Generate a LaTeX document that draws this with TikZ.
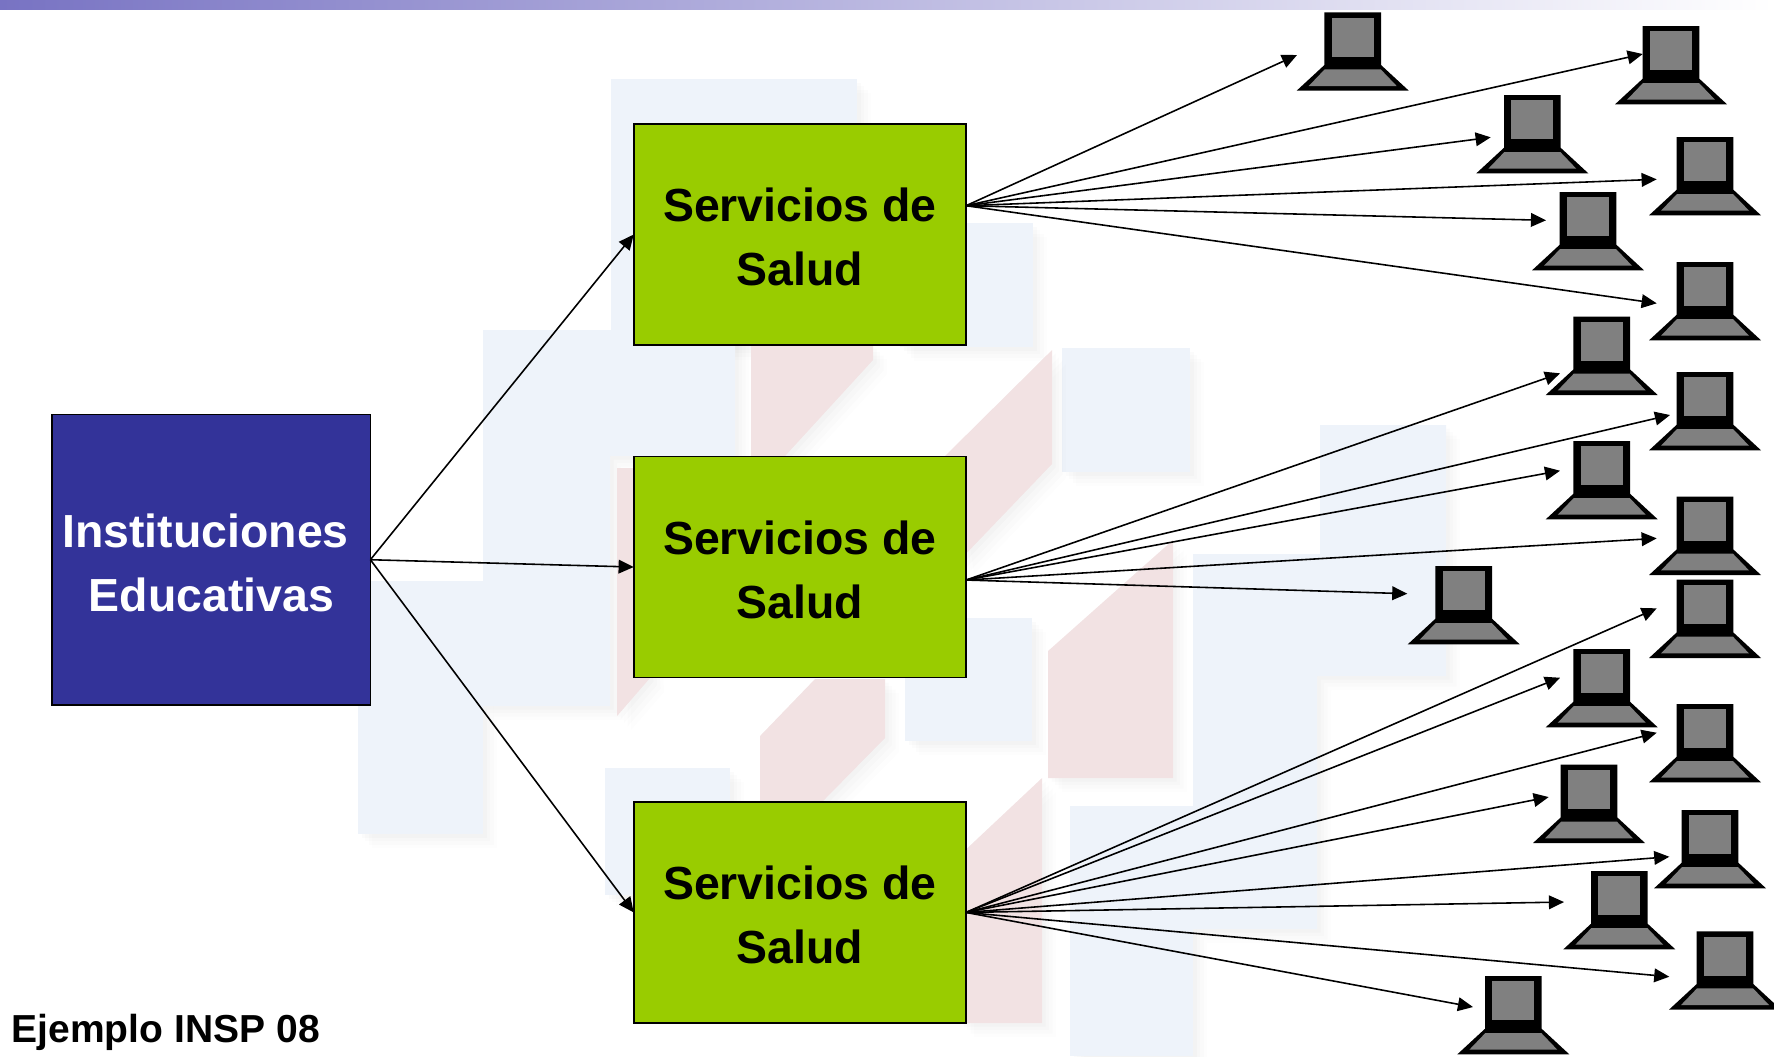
\documentclass[tikz,border=0pt]{standalone}
\usepackage{fontspec}
\setmainfont{Liberation Sans}
\usetikzlibrary{arrows.meta, shadows}
\definecolor{boxgreen}{HTML}{99CC00}
\definecolor{boxblue}{HTML}{333399}
\definecolor{bandblue}{HTML}{7873C3}
\definecolor{paperblue}{HTML}{EEF3FA}
\definecolor{paperpink}{HTML}{F2E2E3}
\newcommand{\boxstrut}{\rule{0pt}{11.1pt}}

\begin{document}
\begin{tikzpicture}[x=0.01cm, y=-0.01cm,
    boxtext/.style={font=\fontsize{13.2pt}{18.2pt}\selectfont\bfseries, align=center},
    servbox/.style={boxtext, draw, fill=boxgreen, line width=0.45pt, minimum width=3.32cm, minimum height=2.21cm, inner sep=0pt, outer sep=0pt},
    instbox/.style={boxtext, draw, fill=boxblue, text=white, line width=0.45pt, minimum width=3.18cm, minimum height=2.905cm, inner sep=0pt, outer sep=0pt},
    paper/.style={drop shadow={shadow xshift=4pt, shadow yshift=-4pt, opacity=.008, fill=black}, drop shadow={shadow xshift=3pt, shadow yshift=-3pt, opacity=.01, fill=black}, drop shadow={shadow xshift=2pt, shadow yshift=-2pt, opacity=.012, fill=black}, drop shadow={shadow xshift=1pt, shadow yshift=-1pt, opacity=.015, fill=black}},
    bluepaper/.style={paper, fill=paperblue},
    pinkpaper/.style={paper, fill=paperpink},
    laptop/.pic={
      \fill [black] (-28.3,0) -- (28.3,0) -- (28.3,52.7) -- (56,78.3) -- (-56,78.3) -- (-28.3,52.7) -- cycle;
      \fill [gray] (-21,5.3) rectangle (21,44.3);
      \fill [gray] (-28,57) -- (28,57) -- (44,73.7) -- (-44,73.7) -- cycle;
    }]
    \useasboundingbox (0,0) rectangle (1774,1056);

    % top band
    \fill [left color=bandblue, right color=white] (0,0) rectangle (1774,9.5);

    % paper shapes behind the boxes
    \path [bluepaper] (611,79) rectangle (857,346);
    \path [bluepaper] (900,223) rectangle (1033,347);
    \path [bluepaper] (358,581) rectangle (483,834);
    \path [bluepaper] (483,330) -- (735,330) -- (735,456) -- (610,456) -- (610,706) -- (483,706) -- cycle;
    \path [bluepaper] (1062,348) rectangle (1190,472);
    \path [bluepaper] (905,618) rectangle (1032,741);
    \path [bluepaper] (605,768) rectangle (730,895);
    \path [bluepaper] (1070,806) rectangle (1193,1056);
    \path [bluepaper] (1193,554) -- (1320,554) -- (1320,425) -- (1446,425) -- (1446,676) -- (1317,676) -- (1317,929) -- (1193,929) -- cycle;
    \path [pinkpaper] (751,345) -- (873,345) -- (873,360) -- (785,456) -- (751,456) -- cycle;
    \path [pinkpaper] (1052,350) -- (1052,464) -- (960,560) -- (945,456) -- cycle;
    \path [pinkpaper] (1173,540) -- (1173,778) -- (1048,778) -- (1048,651) -- cycle;
    \path [pinkpaper] (885,679) -- (885,738) -- (823,801) -- (760,801) -- (760,736) -- (815,679) -- cycle;
    \path [pinkpaper] (617,468) -- (640,468) -- (650,678) -- (617,716) -- cycle;
    \path [pinkpaper] (1042,778) -- (1042,1023) -- (960,1023) -- (960,855) -- cycle;

    % boxes
    \node [instbox] (inst) at (211.3,559.7) {\boxstrut Instituciones\hbox to 0.25em{}\\Educativas};
    \node [servbox] (serv1) at (799.8,234.5) {\boxstrut Servicios de\\Salud};
    \node [servbox] (serv2) at (799.8,567) {\boxstrut Servicios de\\Salud};
    \node [servbox] (serv3) at (799.8,912.4) {\boxstrut Servicios de\\Salud};
    \node [anchor=base west, inner sep=0pt, font=\fontsize{11.1pt}{13pt}\selectfont\bfseries] (ejemplo) at (11,1042) {Ejemplo INSP 08};

    % laptops
    \pic (lap1) at (1352.7,12.3) {laptop};
    \pic (lap2) at (1671,26) {laptop};
    \pic (lap3) at (1532.3,95) {laptop};
    \pic (lap4) at (1705,137) {laptop};
    \pic (lap5) at (1588,192) {laptop};
    \pic (lap6) at (1705,262) {laptop};
    \pic (lap7) at (1601.7,316.7) {laptop};
    \pic (lap8) at (1705,372) {laptop};
    \pic (lap9) at (1601.7,441) {laptop};
    \pic (lap10) at (1705,496.7) {laptop};
    \pic (lap11) at (1463.7,566) {laptop};
    \pic (lap12) at (1705,579.7) {laptop};
    \pic (lap13) at (1601.7,649) {laptop};
    \pic (lap14) at (1705,704) {laptop};
    \pic (lap15) at (1589,764.7) {laptop};
    \pic (lap16) at (1710,810) {laptop};
    \pic (lap17) at (1619.3,871) {laptop};
    \pic (lap18) at (1725,931.3) {laptop};
    \pic (lap19) at (1513.3,976) {laptop};

    % where the arrows start and stop
    \coordinate (out1) at (966,205.7);
    \coordinate (out2) at (966,580);
    \coordinate (tip1) at (1297,55);
    \coordinate (tip2) at (1642.7,54);
    \coordinate (tip3) at (1490.7,137.3);
    \coordinate (tip4) at (1656.7,179.3);
    \coordinate (tip5) at (1546,220.3);
    \coordinate (tip6) at (1656.7,303.3);
    \coordinate (tip7) at (1560,373.3);
    \coordinate (tip8) at (1670,415);
    \coordinate (tip9) at (1560,470.7);
    \coordinate (tip10) at (1656.7,538.3);
    \coordinate (tip11) at (1407.3,593.7);
    \coordinate (tip12) at (1656.7,608.3);
    \coordinate (tip13) at (1560,677.7);
    \coordinate (tip14) at (1656.7,732.7);
    \coordinate (tip15) at (1548.7,797);
    \coordinate (tip16) at (1669.3,856.7);
    \coordinate (tip17) at (1564,902);
    \coordinate (tip18) at (1669.3,976.7);
    \coordinate (tip19) at (1473,1007);

    \begin{scope}[->, >={Stealth[inset=0pt, length=4.3pt, width=3.9pt]}, line width=0.45pt]
      \draw (inst.east) to (serv1.west);
      \draw (inst.east) to (serv2.west);
      \draw (inst.east) to (serv3.west);
      \draw (out1) to (tip1);
      \draw (out1) to (tip2);
      \draw (out1) to (tip3);
      \draw (out1) to (tip4);
      \draw (out1) to (tip5);
      \draw (out1) to (tip6);
      \draw (out2) to (tip7);
      \draw (out2) to (tip8);
      \draw (out2) to (tip9);
      \draw (out2) to (tip10);
      \draw (out2) to (tip11);
      \draw (serv3.east) to (tip12);
      \draw (serv3.east) to (tip13);
      \draw (serv3.east) to (tip14);
      \draw (serv3.east) to (tip15);
      \draw (serv3.east) to (tip16);
      \draw (serv3.east) to (tip17);
      \draw (serv3.east) to (tip18);
      \draw (serv3.east) to (tip19);
    \end{scope}
\end{tikzpicture}
\end{document}
